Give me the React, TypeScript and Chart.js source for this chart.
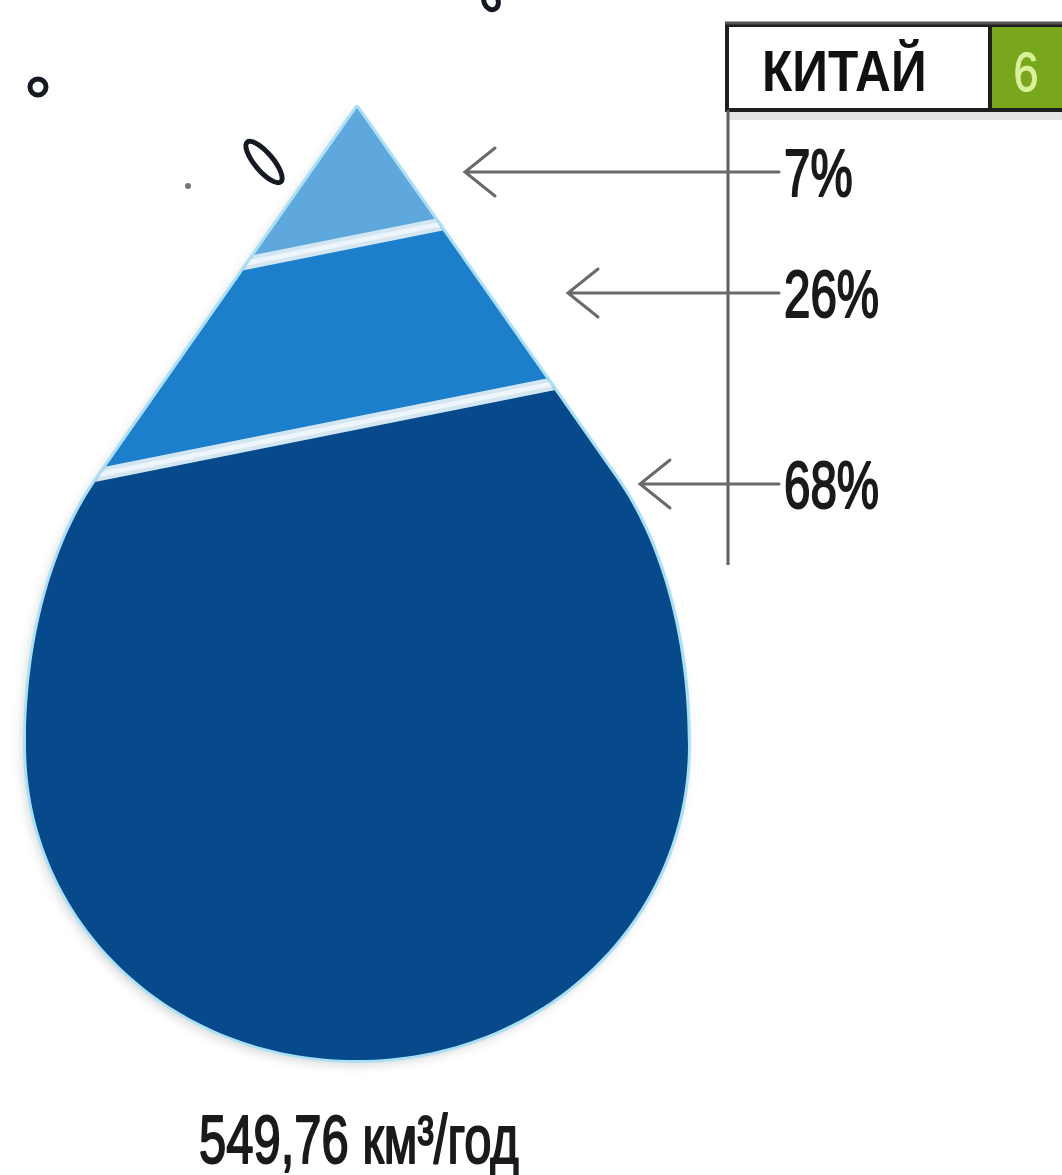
import React, { useEffect, useRef } from "react";
import { Chart, registerables } from "chart.js";

Chart.register(...registerables);

// ---- data ----
const TITLE = "КИТАЙ";
const RANK = "6";
const SHARE_LABELS = ["7%", "26%", "68%"];
const SHARE_VALUES = [7, 26, 68];
const TOTAL_LABEL = "549,76 км³/год";

// ---- styles / layout ----
const BAND_COLORS = ["#5fa8dd", "#1b7fcc", "#064a8b"];
const GAP_COLOR = "#d3e6f2";
const HALO_COLOR = "#a9e0f5";
const LINE_COLOR = "#5f5f5f";
const GREEN = "#78a61c";
const FONT = "'Liberation Sans', Arial, sans-serif";
const ARROW_Y = [172, 293, 484];
const ARROW_TIP_X = [465, 568, 640];

function dropPath(ctx: CanvasRenderingContext2D, area: any) {
  const cx = (area.left + area.right) / 2;
  const rx = (area.right - area.left) / 2;
  const top = area.top;
  const bottom = area.bottom;
  const H = bottom - top;
  const tanS = 0.7;
  const yA = top + 0.39 * H;
  const offA = tanS * (yA - top);
  const ry = 0.331 * H;
  const yR = bottom - ry;
  const dx = 0.574, dy = 0.819;
  const c1 = 70, c2 = 115;
  const k = 0.56;
  ctx.beginPath();
  ctx.moveTo(cx, top);
  ctx.lineTo(cx + offA, yA);
  ctx.bezierCurveTo(cx + offA + dx * c1, yA + dy * c1, cx + rx, yR - c2, cx + rx, yR);
  ctx.bezierCurveTo(cx + rx, yR + k * ry, cx + k * rx, bottom, cx, bottom);
  ctx.bezierCurveTo(cx - k * rx, bottom, cx - rx, yR + k * ry, cx - rx, yR);
  ctx.bezierCurveTo(cx - rx, yR - c2, cx - offA - dx * c1, yA + dy * c1, cx - offA, yA);
  ctx.closePath();
}

function condensedText(
  ctx: CanvasRenderingContext2D,
  text: string,
  x: number,
  y: number,
  font: string,
  sx: number,
  align: "left" | "center" | "right",
  color: string,
  thicken = 0
) {
  ctx.save();
  ctx.font = font;
  ctx.fillStyle = color;
  ctx.strokeStyle = color;
  ctx.textBaseline = "alphabetic";
  ctx.textAlign = "left";
  const w = ctx.measureText(text).width * sx;
  let x0 = x;
  if (align === "center") x0 = x - w / 2;
  if (align === "right") x0 = x - w;
  ctx.translate(x0, y);
  ctx.scale(sx, 1);
  ctx.fillText(text, 0, 0);
  if (thicken > 0) {
    ctx.lineWidth = thicken;
    ctx.lineJoin = "round";
    ctx.strokeText(text, 0, 0);
  }
  ctx.restore();
}

const dropPlugin = {
  id: "dropPlugin",
  afterDatasetsDraw(chart: any) {
    const ctx: CanvasRenderingContext2D = chart.ctx;
    const area = chart.chartArea;
    const cx = (area.left + area.right) / 2;
    const slope = -0.2;
    const n = SHARE_VALUES.length;
    const boundaries: number[] = [];
    for (let i = 0; i < n - 1; i++) {
      const el = chart.getDatasetMeta(i).data[0];
      boundaries.push(el.y);
    }
    const L = area.left - 20;
    const R = area.right + 20;
    const lineY = (b: number, x: number) => b + slope * (x - cx);

    // halo + shadow
    ctx.save();
    ctx.shadowColor = "rgba(0,0,0,0.18)";
    ctx.shadowBlur = 12;
    ctx.shadowOffsetX = -3;
    ctx.shadowOffsetY = 4;
    dropPath(ctx, area);
    ctx.fillStyle = HALO_COLOR;
    ctx.fill();
    ctx.restore();
    ctx.save();
    dropPath(ctx, area);
    ctx.strokeStyle = HALO_COLOR;
    ctx.lineWidth = 6;
    ctx.lineJoin = "round";
    ctx.stroke();
    ctx.restore();

    // bands
    ctx.save();
    dropPath(ctx, area);
    ctx.clip();
    for (let i = 0; i < n; i++) {
      ctx.beginPath();
      if (i === 0) {
        ctx.moveTo(L, area.top - 20);
        ctx.lineTo(R, area.top - 20);
      } else {
        ctx.moveTo(L, lineY(boundaries[i - 1], L));
        ctx.lineTo(R, lineY(boundaries[i - 1], R));
      }
      if (i === n - 1) {
        ctx.lineTo(R, area.bottom + 20);
        ctx.lineTo(L, area.bottom + 20);
      } else {
        ctx.lineTo(R, lineY(boundaries[i], R));
        ctx.lineTo(L, lineY(boundaries[i], L));
      }
      ctx.closePath();
      ctx.fillStyle = BAND_COLORS[i];
      ctx.fill();
    }
    for (const b of boundaries) {
      ctx.beginPath();
      ctx.moveTo(L, lineY(b, L));
      ctx.lineTo(R, lineY(b, R));
      ctx.strokeStyle = GAP_COLOR;
      ctx.lineWidth = 13;
      ctx.stroke();
      ctx.beginPath();
      ctx.moveTo(L, lineY(b, L));
      ctx.lineTo(R, lineY(b, R));
      ctx.strokeStyle = "#eef6fb";
      ctx.lineWidth = 5;
      ctx.stroke();
    }
    ctx.restore();

    // decorative droplets
    ctx.save();
    ctx.strokeStyle = "#151a22";
    ctx.lineWidth = 5;
    ctx.beginPath();
    ctx.ellipse(38, 87, 8, 8, 0, 0, Math.PI * 2);
    ctx.stroke();
    ctx.beginPath();
    ctx.ellipse(264, 162, 9, 26, -0.7, 0, Math.PI * 2);
    ctx.stroke();
    ctx.beginPath();
    ctx.ellipse(491, 1, 7, 9, -0.4, 0, Math.PI * 2);
    ctx.stroke();
    ctx.fillStyle = "#777";
    ctx.beginPath();
    ctx.arc(188, 186, 3, 0, Math.PI * 2);
    ctx.fill();
    ctx.restore();

    // title box
    const boxL = 727, boxR = 990, boxT = 25, boxB = 110, W = chart.width;
    ctx.save();
    ctx.fillStyle = "#e3e3e3";
    ctx.fillRect(boxL, boxB, W - boxL, 10);
    ctx.fillStyle = "#ffffff";
    ctx.fillRect(boxL, boxT, boxR - boxL, boxB - boxT);
    ctx.fillStyle = GREEN;
    ctx.fillRect(boxR, boxT, W - boxR, boxB - boxT);
    ctx.strokeStyle = "#1e1e1e";
    ctx.lineWidth = 4;
    ctx.beginPath();
    ctx.moveTo(W + 5, boxT);
    ctx.lineTo(boxL, boxT);
    ctx.lineTo(boxL, boxB);
    ctx.lineTo(W + 5, boxB);
    ctx.moveTo(boxR, boxT);
    ctx.lineTo(boxR, boxB);
    ctx.stroke();
    ctx.strokeStyle = "#555";
    ctx.lineWidth = 3;
    ctx.beginPath();
    ctx.moveTo(boxL - 2, boxT - 2);
    ctx.lineTo(W, boxT - 2);
    ctx.stroke();
    ctx.restore();
    condensedText(ctx, TITLE, 762, 91, `bold 57px ${FONT}`, 0.87, "left", "#111");
    condensedText(ctx, RANK, 1026, 91, `56px ${FONT}`, 0.8, "center", "#d9f29a", 1);

    // vertical leader line
    ctx.save();
    ctx.strokeStyle = LINE_COLOR;
    ctx.lineWidth = 3;
    ctx.beginPath();
    ctx.moveTo(boxL + 1, boxB);
    ctx.lineTo(boxL + 1, 565);
    ctx.stroke();
    ctx.restore();

    // arrows and labels
    for (let i = 0; i < n; i++) {
      const y = ARROW_Y[i];
      const tip = ARROW_TIP_X[i];
      ctx.save();
      ctx.strokeStyle = "#6a6a6a";
      ctx.lineWidth = 3;
      ctx.lineCap = "round";
      ctx.beginPath();
      ctx.moveTo(779, y);
      ctx.lineTo(tip, y);
      ctx.moveTo(tip + 30, y - 24);
      ctx.lineTo(tip, y);
      ctx.lineTo(tip + 30, y + 24);
      ctx.stroke();
      ctx.restore();
      condensedText(ctx, SHARE_LABELS[i], 784, y + 24, `66px ${FONT}`, 0.72, "left", "#1a1a1a", 2);
    }

    // total
    condensedText(ctx, TOTAL_LABEL, cx + 2, 1163, `68px ${FONT}`, 0.72, "center", "#1a1a1a", 2);
  },
};

export default function App() {
  const ref = useRef<HTMLCanvasElement | null>(null);
  useEffect(() => {
    document.body.style.margin = "0";
    const canvas = ref.current;
    if (!canvas) return;
    const chart = new Chart(canvas, {
      type: "bar",
      data: {
        labels: [TITLE],
        datasets: SHARE_VALUES.map((v, i) => ({
          label: SHARE_LABELS[i],
          data: [v],
          backgroundColor: "rgba(0,0,0,0)",
          borderWidth: 0,
          stack: "s",
        })),
      },
      options: {
        responsive: false,
        animation: false,
        layout: { padding: { top: 108, bottom: 115, left: 26, right: 374 } },
        scales: {
          x: { display: false, stacked: true },
          y: { display: false, stacked: true, min: -12, max: 124, reverse: true },
        },
        plugins: { legend: { display: false }, tooltip: { enabled: false } },
      },
      plugins: [dropPlugin],
    });
    return () => chart.destroy();
  }, []);
  return (
    <div style={{ position: "absolute", left: 0, top: 0, width: 1062, height: 1175, background: "#fff" }}>
      <canvas ref={ref} width={1062} height={1175} style={{ display: "block" }} />
    </div>
  );
}
